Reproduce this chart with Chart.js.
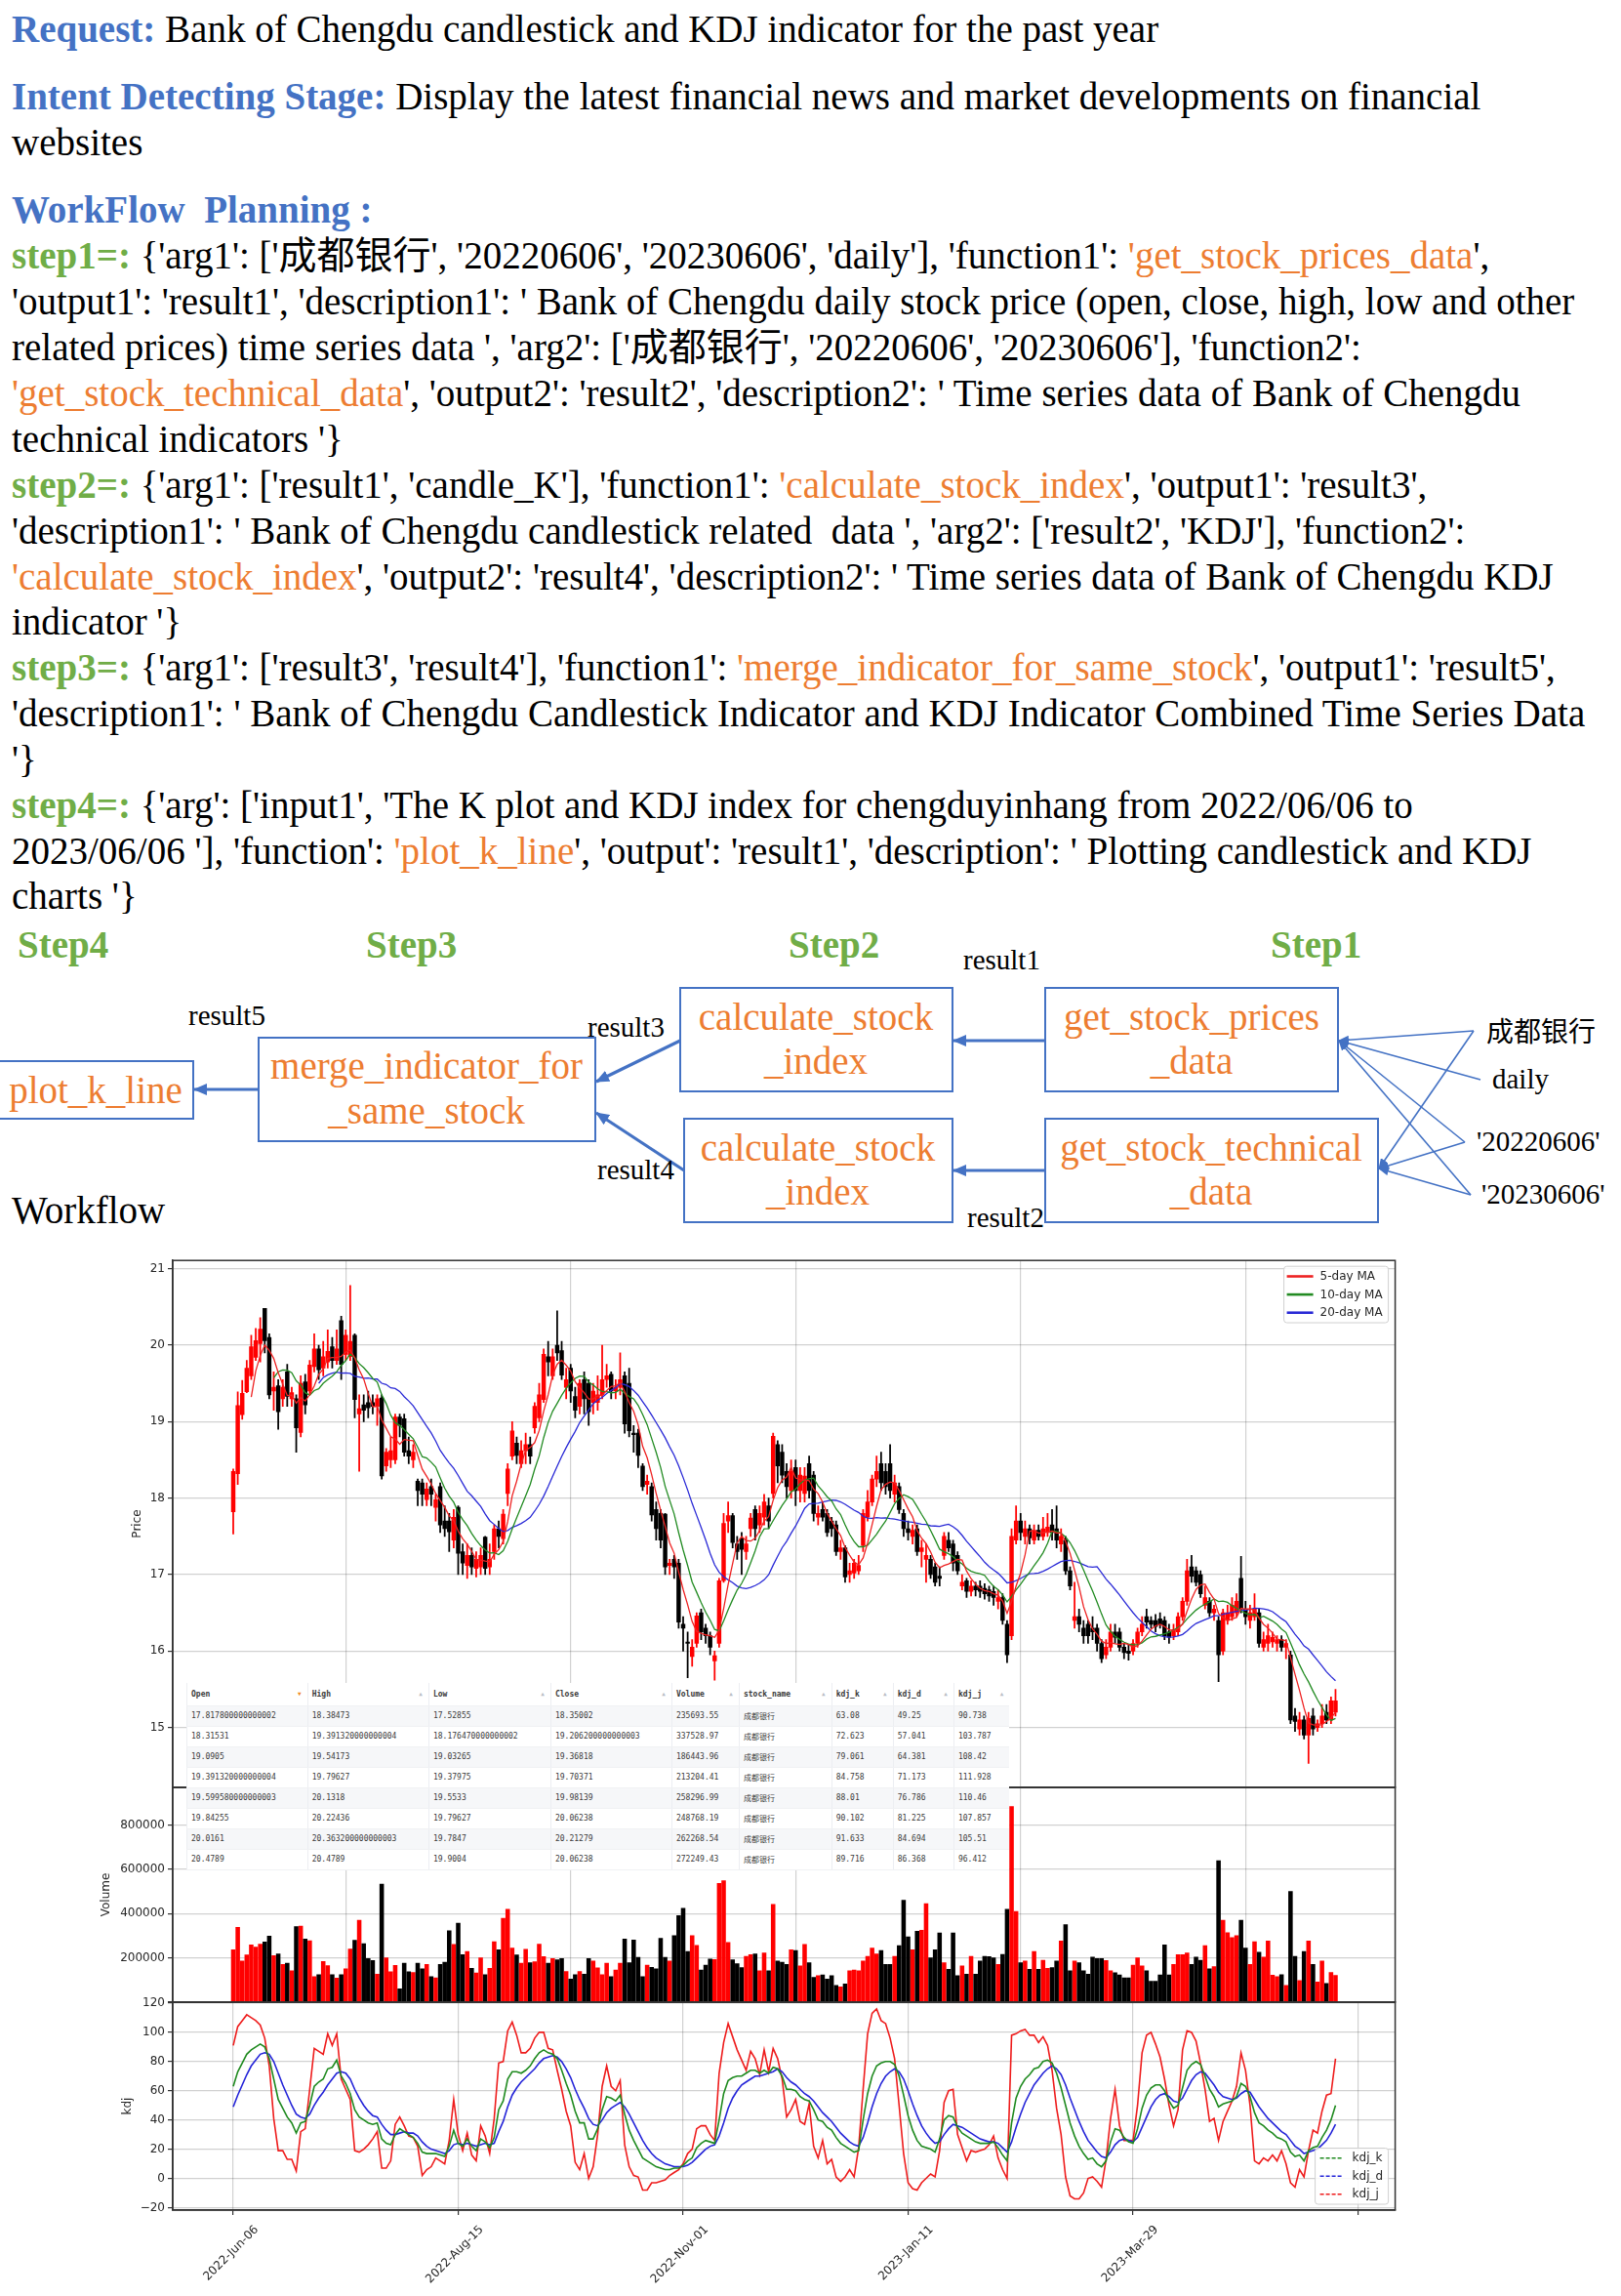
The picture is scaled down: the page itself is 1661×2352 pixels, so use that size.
<!DOCTYPE html>
<html>
<head>
<meta charset="utf-8">
<title>Bank of Chengdu candlestick and KDJ</title>
<script src="https://cdn.jsdelivr.net/npm/chart.js@4.4.1/dist/chart.umd.min.js"></script>
<style>
  html, body { margin: 0; padding: 0; background: #fff; }
  body { position: relative; width: 1661px; height: 2352px; overflow: hidden;
         font-family: "Liberation Serif", "Noto Sans CJK SC", serif; color: #000; }
  .ln { position: absolute; left: 12px; font-size: 39px; line-height: 47px; white-space: nowrap; }
  .bl { color: #4472C4; font-weight: bold; }
  .gr { color: #70AD47; font-weight: bold; }
  .or { color: #ED7D31; }
  canvas { position: absolute; left: 60px; }
  #flow { position: absolute; left: 0; top: 0; }
  #tbl { position: absolute; left: 191px; top: 1724px; width: 843px; border-collapse: collapse;
         table-layout: fixed; background: #fff; font-family: "DejaVu Sans Mono", monospace;
         font-size: 8px; color: #3a3a3a; z-index: 5; }
  #tbl th, #tbl td { box-sizing: border-box; padding: 0 4px; text-align: left; white-space: nowrap; overflow: hidden;
         border-left: 1px solid #eceef2; border-bottom: 1px solid #f0f1f4; }
  #tbl th { height: 23px; font-weight: bold; background: #fff; }
  #tbl td { height: 21px; }
  #tbl tbody tr:nth-child(odd) td { background: #f6f7f9; }
  #tbl .ar { float: right; font-size: 6px; color: #b9bdc5; margin-right: 2px; }
  #tbl .ar.on { color: #f08a24; }
  #tbl .cj { font-family: "Noto Sans CJK SC", sans-serif; }
</style>
</head>
<body>

<div class="ln" style="top:6px"><span class="bl">Request:</span> Bank of Chengdu candlestick and KDJ indicator for the past year</div>
<div class="ln" style="top:75px"><span class="bl">Intent Detecting Stage:</span> Display the latest financial news and market developments on financial</div>
<div class="ln" style="top:122px">websites</div>
<div class="ln" style="top:191px"><span class="bl">WorkFlow&nbsp; Planning :</span></div>
<div class="ln" style="top:238px"><span class="gr">step1=:</span> {'arg1': ['成都银行', '20220606', '20230606', 'daily'], 'function1': <span class="or">'get_stock_prices_data</span>',</div>
<div class="ln" style="top:285px">'output1': 'result1', 'description1': ' Bank of Chengdu daily stock price (open, close, high, low and other</div>
<div class="ln" style="top:332px">related prices) time series data ', 'arg2': ['成都银行', '20220606', '20230606'], 'function2':</div>
<div class="ln" style="top:379px"><span class="or">'get_stock_technical_data</span>', 'output2': 'result2', 'description2': ' Time series data of Bank of Chengdu</div>
<div class="ln" style="top:426px">technical indicators '}</div>
<div class="ln" style="top:473px"><span class="gr">step2=:</span> {'arg1': ['result1', 'candle_K'], 'function1': <span class="or">'calculate_stock_index</span>', 'output1': 'result3',</div>
<div class="ln" style="top:520px">'description1': ' Bank of Chengdu candlestick related&nbsp; data ', 'arg2': ['result2', 'KDJ'], 'function2':</div>
<div class="ln" style="top:567px"><span class="or">'calculate_stock_index</span>', 'output2': 'result4', 'description2': ' Time series data of Bank of Chengdu KDJ</div>
<div class="ln" style="top:613px">indicator '}</div>
<div class="ln" style="top:660px"><span class="gr">step3=:</span> {'arg1': ['result3', 'result4'], 'function1': <span class="or">'merge_indicator_for_same_stock</span>', 'output1': 'result5',</div>
<div class="ln" style="top:707px">'description1': ' Bank of Chengdu Candlestick Indicator and KDJ Indicator Combined Time Series Data</div>
<div class="ln" style="top:754px">'}</div>
<div class="ln" style="top:801px"><span class="gr">step4=:</span> {'arg': ['input1', 'The K plot and KDJ index for chengduyinhang from 2022/06/06 to</div>
<div class="ln" style="top:848px">2023/06/06 '], 'function': <span class="or">'plot_k_line</span>', 'output': 'result1', 'description': ' Plotting candlestick and KDJ</div>
<div class="ln" style="top:894px">charts '}</div>

<svg id="flow" width="1661" height="1290" font-family="Liberation Serif, Noto Sans CJK SC, serif">
  <defs>
    <marker id="big" markerUnits="userSpaceOnUse" markerWidth="14" markerHeight="12" refX="13" refY="6" orient="auto">
      <path d="M0,0 L14,6 L0,12 z" fill="#4472C4"/>
    </marker>
    <marker id="small" markerUnits="userSpaceOnUse" markerWidth="11" markerHeight="9" refX="10" refY="4.5" orient="auto">
      <path d="M0,0 L11,4.5 L0,9 z" fill="#4472C4"/>
    </marker>
  </defs>
  <g font-weight="bold" fill="#70AD47" font-size="39">
    <text x="18" y="981">Step4</text>
    <text x="375" y="981">Step3</text>
    <text x="808" y="981">Step2</text>
    <text x="1302" y="981">Step1</text>
  </g>
  <g fill="none" stroke="#4472C4" stroke-width="2">
    <rect x="-2" y="1087" width="200" height="59"/>
    <rect x="265" y="1063" width="345" height="106"/>
    <rect x="697" y="1012" width="279" height="106"/>
    <rect x="701" y="1146" width="275" height="106"/>
    <rect x="1071" y="1012" width="300" height="106"/>
    <rect x="1071" y="1146" width="341" height="106"/>
  </g>
  <g fill="#ED7D31" font-size="39" text-anchor="middle">
    <text x="98" y="1130">plot_k_line</text>
    <text x="437" y="1105">merge_indicator_for</text>
    <text x="437" y="1151">_same_stock</text>
    <text x="836" y="1055">calculate_stock</text>
    <text x="836" y="1100">_index</text>
    <text x="838" y="1189">calculate_stock</text>
    <text x="838" y="1234">_index</text>
    <text x="1221" y="1055">get_stock_prices</text>
    <text x="1221" y="1100">_data</text>
    <text x="1241" y="1189">get_stock_technical</text>
    <text x="1241" y="1234">_data</text>
  </g>
  <g stroke="#4472C4" stroke-width="3.2" marker-end="url(#big)">
    <line x1="1071" y1="1066" x2="977" y2="1066"/>
    <line x1="1071" y1="1199" x2="977" y2="1199"/>
    <line x1="697" y1="1066" x2="611" y2="1108"/>
    <line x1="701" y1="1199" x2="611" y2="1140"/>
    <line x1="265" y1="1116" x2="199" y2="1116"/>
  </g>
  <g stroke="#4472C4" stroke-width="1.6" marker-end="url(#small)">
    <line x1="1510" y1="1056" x2="1372" y2="1066"/>
    <line x1="1517" y1="1106" x2="1372" y2="1066"/>
    <line x1="1501" y1="1170" x2="1372" y2="1066"/>
    <line x1="1507" y1="1224" x2="1372" y2="1066"/>
    <line x1="1510" y1="1056" x2="1413" y2="1197"/>
    <line x1="1501" y1="1170" x2="1413" y2="1197"/>
    <line x1="1507" y1="1224" x2="1413" y2="1197"/>
  </g>
  <g fill="#000" font-size="29">
    <text x="987" y="993">result1</text>
    <text x="193" y="1050">result5</text>
    <text x="602" y="1062">result3</text>
    <text x="612" y="1208">result4</text>
    <text x="991" y="1257">result2</text>
    <text x="1523" y="1067" font-family="Noto Sans CJK SC, sans-serif" font-size="28">成都银行</text>
    <text x="1529" y="1115">daily</text>
    <text x="1513" y="1179">'20220606'</text>
    <text x="1518" y="1233">'20230606'</text>
  </g>
  <text x="12" y="1253" font-size="39" fill="#000">Workflow</text>
</svg>

<canvas id="priceChart" width="1400" height="560" style="top:1281px"></canvas>
<canvas id="volumeChart" width="1400" height="240" style="top:1821px"></canvas>
<canvas id="kdjChart" width="1400" height="311" style="top:2041px"></canvas>

<table id="tbl"><thead><tr id="tblHead"></tr></thead><tbody id="tblBody"></tbody></table>

<script>
// ---- price data (index 0 = 2022-06-06) ----
const opens = [
  17.82, 18.32, 19.09, 19.39, 19.60, 19.84, 20.02, 20.48, 20.10, 19.40,
  19.47, 19.30, 19.65, 19.30, 19.30, 18.86, 19.52, 19.40, 19.72, 19.95,
  19.70, 19.78, 19.98, 19.80, 20.32, 19.88, 19.85, 20.13, 19.10, 19.22,
  19.25, 19.25, 19.20, 19.31, 18.42, 18.50, 18.50, 19.06, 19.04, 18.62,
  18.50, 18.22, 18.20, 17.98, 18.15, 17.88, 18.15, 17.70, 17.70, 17.45,
  17.88, 17.30, 17.12, 17.25, 17.08, 17.10, 17.49, 17.10, 17.30, 17.60,
  17.47, 18.06, 18.55, 18.72, 18.45, 18.62, 18.70, 18.92, 19.05, 19.29,
  19.85, 19.60, 20.00, 19.93, 19.45, 19.70, 19.33, 19.20, 19.55, 19.50,
  19.25, 19.25, 19.35, 19.55, 19.62, 19.40, 19.45, 19.60, 19.50, 18.85,
  18.85, 18.42, 18.18, 18.15, 17.85, 17.80, 17.79, 17.12, 17.20, 17.15,
  16.35, 16.12, 15.93, 16.10, 16.50, 16.30, 16.20, 15.87, 16.10, 16.92,
  17.70, 17.77, 17.40, 17.47, 17.30, 17.60, 17.85, 17.65, 17.75, 17.90,
  18.06, 18.70, 18.60, 18.35, 18.10, 18.40, 18.10, 18.06, 18.45, 18.30,
  17.75, 17.85, 17.80, 17.70, 17.65, 17.30, 17.35, 17.00, 17.02, 17.05,
  17.38, 17.75, 17.95, 18.25, 18.45, 18.35, 18.45, 18.05, 18.15, 17.80,
  17.60, 17.50, 17.60, 17.30, 17.20, 17.20, 17.10, 16.98, 17.25, 17.45,
  17.40, 17.25, 16.85, 16.92, 16.78, 16.85, 16.85, 16.82, 16.80, 16.78,
  16.65, 16.70, 16.35, 16.20, 17.45, 17.70, 17.50, 17.60, 17.45, 17.58,
  17.50, 17.55, 17.65, 17.60, 17.40, 17.45, 17.05, 16.40, 16.45, 16.30,
  16.35, 16.30, 16.30, 16.10, 15.95, 16.05, 16.25, 16.25, 16.05, 16.00,
  16.00, 16.10, 16.25, 16.45, 16.40, 16.40, 16.42, 16.40, 16.25, 16.20,
  16.25, 16.45, 16.65, 17.10, 17.05, 17.00, 16.60, 16.65, 16.50, 16.40,
  16.00, 16.40, 16.45, 16.50, 16.95, 16.55, 16.40, 16.45, 16.50, 16.05,
  16.10, 16.12, 16.10, 16.15, 16.05, 15.95, 15.15, 14.98, 15.10, 14.90,
  15.15, 15.00, 15.05, 15.20, 15.10, 15.20
];
const highs = [
  18.38, 19.39, 19.54, 19.80, 20.13, 20.22, 20.36, 20.48, 20.15, 19.65,
  19.55, 19.55, 19.75, 19.45, 19.35, 19.60, 19.62, 19.80, 20.15, 20.00,
  20.05, 20.20, 20.10, 20.20, 20.38, 20.20, 20.78, 20.15, 19.35, 19.35,
  19.40, 19.35, 19.35, 19.35, 18.65, 18.80, 19.10, 19.10, 19.10, 18.80,
  18.70, 18.25, 18.25, 18.20, 18.25, 18.05, 18.20, 17.90, 17.80, 17.85,
  17.90, 17.40, 17.40, 17.35, 17.30, 17.35, 17.50, 17.40, 17.65, 17.70,
  17.85, 18.45, 19.00, 18.80, 18.75, 18.85, 18.80, 19.25, 19.50, 19.95,
  20.05, 19.95, 20.45, 20.05, 19.70, 19.75, 19.45, 19.55, 19.65, 19.55,
  19.50, 19.60, 20.00, 19.75, 19.65, 19.55, 19.90, 19.65, 19.70, 18.95,
  18.90, 18.45, 18.30, 18.20, 17.95, 17.85, 17.80, 17.20, 17.25, 17.20,
  16.45, 16.25, 16.15, 16.50, 16.55, 16.35, 16.25, 16.00, 16.95, 17.80,
  17.95, 17.80, 17.50, 17.55, 17.50, 17.80, 17.90, 17.90, 18.05, 18.00,
  18.85, 18.75, 18.70, 18.45, 18.50, 18.50, 18.40, 18.40, 18.55, 18.35,
  17.90, 17.95, 17.85, 17.75, 17.70, 17.45, 17.38, 17.15, 17.20, 17.25,
  17.85, 18.10, 18.30, 18.55, 18.60, 18.45, 18.70, 18.30, 18.20, 17.85,
  17.70, 17.65, 17.65, 17.45, 17.40, 17.25, 17.15, 17.10, 17.55, 17.55,
  17.45, 17.30, 17.00, 16.95, 16.92, 16.90, 16.92, 16.88, 16.85, 16.85,
  16.80, 16.75, 16.40, 17.60, 17.90, 17.80, 17.70, 17.65, 17.65, 17.65,
  17.75, 17.80, 17.85, 17.90, 17.60, 17.50, 17.10, 16.90, 16.55, 16.40,
  16.40, 16.45, 16.35, 16.15, 16.15, 16.35, 16.35, 16.30, 16.10, 16.08,
  16.15, 16.30, 16.45, 16.55, 16.45, 16.48, 16.50, 16.45, 16.35, 16.35,
  16.50, 16.70, 17.20, 17.25, 17.10, 17.05, 16.85, 16.70, 16.60, 16.45,
  16.55, 16.60, 16.70, 16.75, 17.24, 16.65, 16.60, 16.75, 16.55, 16.25,
  16.35, 16.25, 16.20, 16.20, 16.15, 16.00, 15.25, 15.20, 15.15, 15.20,
  15.25, 15.10, 15.30, 15.30, 15.40, 15.50
];
const lows = [
  17.53, 18.18, 19.03, 19.38, 19.55, 19.80, 19.78, 19.90, 19.30, 19.15,
  18.90, 19.20, 19.20, 19.20, 18.60, 18.80, 19.10, 19.35, 19.65, 19.55,
  19.60, 19.70, 19.70, 19.75, 19.55, 19.80, 19.80, 19.05, 18.35, 19.00,
  19.05, 19.10, 18.95, 18.25, 18.35, 18.40, 18.45, 18.80, 18.55, 18.45,
  18.40, 17.90, 17.90, 17.90, 17.90, 17.70, 17.55, 17.50, 17.30, 17.35,
  17.00, 17.00, 16.95, 17.00, 16.97, 17.00, 17.00, 17.00, 17.20, 17.35,
  17.40, 17.90, 18.50, 18.45, 18.40, 18.45, 18.45, 18.85, 19.00, 19.25,
  19.60, 19.55, 19.80, 19.55, 19.30, 19.25, 19.05, 19.10, 19.10, 18.95,
  19.10, 19.15, 19.30, 19.45, 19.30, 19.30, 19.35, 18.85, 18.80, 18.60,
  18.40, 18.10, 18.05, 17.70, 17.45, 17.35, 17.00, 17.00, 16.95, 16.30,
  16.00, 15.65, 15.80, 16.05, 16.15, 16.10, 15.95, 15.62, 16.05, 16.90,
  17.55, 17.35, 17.20, 17.00, 17.20, 17.50, 17.45, 17.55, 17.65, 17.60,
  18.00, 18.20, 18.20, 18.00, 18.00, 17.90, 17.95, 17.95, 18.00, 17.70,
  17.65, 17.70, 17.50, 17.50, 17.25, 17.20, 16.90, 16.90, 16.95, 17.00,
  17.30, 17.70, 17.90, 18.15, 18.10, 18.05, 18.00, 17.95, 17.80, 17.50,
  17.45, 17.40, 17.25, 17.10, 16.90, 16.95, 16.85, 16.85, 17.20, 17.30,
  17.05, 17.00, 16.80, 16.70, 16.72, 16.72, 16.70, 16.68, 16.65, 16.60,
  16.55, 16.35, 15.85, 16.15, 17.40, 17.45, 17.40, 17.40, 17.40, 17.45,
  17.45, 17.50, 17.45, 17.35, 17.30, 17.00, 16.80, 16.30, 16.25, 16.10,
  16.10, 16.15, 16.00, 15.85, 15.90, 16.00, 16.10, 16.00, 15.90, 15.88,
  15.95, 16.05, 16.20, 16.30, 16.30, 16.25, 16.30, 16.15, 16.10, 16.15,
  16.20, 16.40, 16.60, 16.90, 16.85, 16.70, 16.55, 16.45, 16.40, 15.60,
  15.95, 16.35, 16.40, 16.45, 16.50, 16.35, 16.30, 16.40, 16.05, 16.00,
  16.00, 16.05, 16.00, 16.00, 15.90, 15.05, 14.95, 14.90, 14.85, 14.53,
  14.90, 14.95, 15.00, 15.05, 15.05, 15.15
];
const closes = [
  18.35, 19.21, 19.37, 19.70, 19.98, 20.06, 20.21, 20.06, 19.35, 19.45,
  19.13, 19.45, 19.33, 19.38, 18.92, 19.50, 19.22, 19.74, 19.95, 19.68,
  19.85, 19.92, 19.80, 19.95, 19.75, 20.13, 20.05, 19.29, 19.17, 19.15,
  19.18, 19.20, 19.30, 18.29, 18.60, 18.62, 19.06, 18.95, 18.60, 18.55,
  18.60, 18.10, 18.05, 18.12, 18.05, 17.98, 17.65, 17.60, 17.56, 17.75,
  17.28, 17.15, 17.25, 17.10, 17.20, 17.25, 17.08, 17.20, 17.60, 17.50,
  17.79, 18.38, 18.88, 18.56, 18.62, 18.70, 18.55, 19.20, 19.35, 19.88,
  19.78, 19.85, 19.90, 19.61, 19.55, 19.40, 19.15, 19.50, 19.30, 19.13,
  19.40, 19.35, 19.55, 19.60, 19.40, 19.45, 19.55, 18.97, 18.88, 18.83,
  18.56, 18.15, 18.22, 17.78, 17.60, 17.45, 17.10, 17.15, 17.10, 16.38,
  16.30, 16.10, 16.05, 16.46, 16.25, 16.20, 16.05, 15.94, 16.92, 17.67,
  17.77, 17.42, 17.30, 17.33, 17.40, 17.74, 17.60, 17.80, 17.95, 17.70,
  18.81, 18.42, 18.30, 18.15, 18.35, 18.10, 18.30, 18.29, 18.10, 17.80,
  17.80, 17.75, 17.55, 17.60, 17.30, 17.35, 16.97, 17.05, 17.15, 17.12,
  17.80, 17.95, 18.25, 18.35, 18.20, 18.15, 18.10, 18.20, 17.85, 17.60,
  17.55, 17.58, 17.30, 17.35, 17.25, 17.00, 16.90, 16.95, 17.50, 17.35,
  17.15, 17.05, 16.90, 16.78, 16.85, 16.80, 16.78, 16.75, 16.72, 16.70,
  16.70, 16.40, 15.95, 17.50, 17.70, 17.55, 17.60, 17.48, 17.58, 17.50,
  17.60, 17.62, 17.55, 17.45, 17.50, 17.05, 16.85, 16.45, 16.35, 16.20,
  16.20, 16.25, 16.10, 15.90, 16.05, 16.25, 16.18, 16.05, 15.98, 15.97,
  16.10, 16.25, 16.35, 16.38, 16.35, 16.32, 16.35, 16.20, 16.18, 16.28,
  16.45, 16.65, 17.05, 16.98, 16.90, 16.75, 16.70, 16.50, 16.55, 15.95,
  16.50, 16.50, 16.60, 16.65, 16.55, 16.45, 16.50, 16.55, 16.10, 16.15,
  16.20, 16.18, 16.15, 16.05, 16.10, 15.10, 15.08, 15.10, 14.90, 15.12,
  14.98, 15.05, 15.15, 15.10, 15.35, 15.35
];
// volume in thousands of shares
const volumeThousands = [
  236, 338, 186, 213, 258, 249, 262, 272, 298, 210,
  217, 170, 176, 141, 341, 344, 285, 277, 115, 124,
  183, 164, 124, 108, 124, 150, 240, 279, 370, 264,
  197, 188, 126, 534, 200, 137, 166, 60, 176, 137,
  134, 175, 150, 170, 115, 109, 170, 180, 323, 261,
  357, 214, 229, 152, 131, 200, 124, 152, 273, 236,
  379, 420, 244, 213, 176, 239, 178, 182, 262, 205,
  176, 197, 191, 197, 138, 104, 124, 138, 126, 197,
  185, 154, 124, 175, 115, 145, 175, 285, 178, 280,
  202, 115, 167, 157, 150, 288, 202, 185, 300, 391,
  424, 229, 300, 256, 145, 167, 194, 192, 537, 549,
  270, 191, 173, 156, 207, 214, 217, 141, 222, 141,
  442, 185, 180, 170, 236, 233, 163, 261, 178, 112,
  119, 122, 104, 119, 75, 68, 82, 141, 145, 141,
  185, 207, 244, 218, 233, 170, 170, 207, 255, 461,
  295, 236, 320, 325, 445, 200, 236, 312, 178, 148,
  312, 119, 163, 126, 207, 126, 185, 207, 205, 200,
  170, 215, 420, 885, 410, 178, 185, 148, 229, 148,
  189, 152, 156, 185, 276, 350, 141, 185, 178, 141,
  126, 203, 197, 197, 188, 141, 133, 122, 109, 109,
  167, 200, 163, 141, 94, 94, 123, 258, 123, 170,
  214, 214, 222, 170, 203, 189, 255, 150, 160, 640,
  370, 314, 292, 300, 370, 244, 170, 273, 225, 203,
  276, 121, 115, 124, 75, 500, 206, 97, 229, 276,
  170, 90, 185, 84, 134, 120
];
const kdjK = [
  63, 73, 79, 85, 88, 90, 92, 90, 82, 68,
  54, 48, 42, 38, 31, 38, 39, 50, 63, 66,
  68, 75, 76, 81, 70, 65, 58, 47, 42, 40,
  38, 37, 38, 27, 24, 23, 30, 34, 32, 30,
  28, 24, 18, 17, 17, 17, 16, 15, 22, 33,
  24, 22, 27, 22, 19, 27, 25, 21, 28, 47,
  53, 68, 73, 73, 72, 74, 77, 82, 86, 88,
  86, 85, 82, 74, 65, 57, 46, 38, 38, 27,
  27, 34, 47, 56, 55, 53, 57, 44, 33, 26,
  20, 14, 12, 10, 8, 7, 6, 6, 7, 7,
  9, 12, 14, 21, 24, 26, 25, 24, 40, 58,
  67, 69, 70, 70, 72, 74, 74, 72, 74, 72,
  76, 75, 70, 61, 61, 60, 56, 54, 53, 47,
  40, 39, 35, 33, 28, 24, 22, 20, 18, 19,
  40, 58, 70, 77, 79, 80, 80, 78, 70, 57,
  43, 33, 26, 22, 21, 20, 18, 27, 40, 43,
  42, 35, 31, 29, 27, 25, 24, 24, 24, 25,
  21, 16, 12, 38, 55, 63, 68, 71, 75, 76,
  80, 81, 79, 72, 62, 50, 38, 29, 22, 17,
  13, 14, 10, 8, 12, 25, 34, 33, 28, 25,
  24, 34, 48, 57, 62, 64, 64, 60, 53, 48,
  50, 62, 74, 78, 80, 78, 70, 61, 56, 49,
  51, 52, 53, 56, 65, 63, 56, 45, 38, 36,
  33, 31, 28, 27, 25, 18, 15, 16, 12, 19,
  21, 22, 28, 33, 40, 50
];
const kdjD = [
  49, 57, 64, 71, 77, 81, 85, 86, 85, 80,
  72, 64, 57, 50, 44, 42, 41, 44, 50, 55,
  59, 64, 68, 72, 73, 72, 68, 61, 55, 50,
  46, 43, 42, 37, 33, 30, 30, 31, 32, 31,
  31, 29, 25, 22, 20, 19, 18, 17, 19, 23,
  24, 23, 24, 23, 22, 23, 24, 23, 24, 32,
  39, 49, 57, 62, 66, 69, 72, 75, 79, 82,
  83, 84, 83, 80, 75, 69, 61, 54, 48, 41,
  37, 36, 40, 45, 48, 50, 52, 49, 44, 38,
  32, 26, 21, 17, 14, 12, 10, 9, 8, 8,
  8, 9, 11, 14, 17, 20, 22, 23, 29, 38,
  48, 55, 60, 64, 66, 68, 70, 70, 71, 72,
  73, 75, 73, 69, 66, 64, 61, 58, 56, 53,
  49, 45, 42, 39, 35, 31, 28, 25, 23, 22,
  28, 38, 49, 58, 65, 70, 73, 75, 73, 68,
  60, 51, 43, 36, 31, 27, 24, 25, 30, 34,
  37, 36, 35, 33, 31, 29, 27, 26, 25, 25,
  24, 21, 18, 25, 35, 44, 52, 58, 64, 68,
  72, 75, 77, 75, 71, 64, 55, 47, 39, 32,
  26, 22, 18, 15, 14, 18, 23, 26, 27, 26,
  25, 28, 35, 42, 49, 54, 57, 58, 56, 53,
  52, 55, 61, 67, 71, 73, 72, 68, 64, 59,
  56, 55, 54, 55, 58, 60, 59, 54, 49, 45,
  41, 38, 35, 32, 30, 26, 22, 20, 17, 18,
  19, 20, 23, 26, 31, 37
];
const kdjJ = [
  91, 104, 108, 112, 110, 108, 105, 96, 77, 41,
  19, 19, 13, 13, 5, 32, 34, 61, 89, 87,
  85, 99, 91, 99, 68, 61, 54, 19, 18, 20,
  23, 27, 32, 7, 7, 12, 37, 42, 36, 29,
  28, 22, 2, 6, 8, 14, 12, 10, 26, 54,
  30, 19, 31, 16, 12, 36, 29, 17, 41, 79,
  80, 101, 107, 98, 86, 86, 89, 96, 100, 100,
  89, 88, 74, 61, 46, 36, 11, 6, 17, 0,
  8, 30, 63, 77, 63, 60, 67, 23, 8, 2,
  1, -8, -8, -3, -3, -2, -1, 2, 4, 6,
  10, 17, 20, 34, 36, 36, 30, 26, 72, 93,
  106, 97, 88, 81, 74, 87, 82, 71, 88, 73,
  89, 82, 68, 42, 47, 54, 39, 37, 51, 22,
  14, 26, 10, 13, 1, -2, 1, 6, 1, 21,
  61, 99, 113, 116, 108, 106, 96, 82, 50, 17,
  -3, -7, -8, -3, 0, 3, 1, 19, 52, 60,
  61, 30, 21, 12, 19, 18, 19, 20, 23, 29,
  14, 6, 0, 98, 99, 101, 102, 98, 98, 93,
  97, 91, 74, 48, 30, 1, -12, -14, -14, -10,
  0, 1, -2, -6, 13, 41, 61, 36, 26, 26,
  26, 50, 86, 98, 100, 92, 83, 68, 50, 36,
  47, 88, 101, 100, 94, 79, 61, 39, 41, 26,
  39, 46, 53, 63, 86, 74, 50, 12, 10, 14,
  12, 16, 12, 19, 10, -3, -6, 6, 1, 19,
  33, 31, 46, 57, 58, 82
];
// x tick labels every 50 trading days
const tickLabels = ['2022-Jun-06', '2022-Aug-15', '2022-Nov-01', '2023-Jan-11', '2023-Mar-29', ''];
const volumeTicks = [0, 200000, 400000, 600000, 800000];

// overlaid data table (first rows of the merged result)
const tableHeaders = ['Open', 'High', 'Low', 'Close', 'Volume', 'stock_name', 'kdj_k', 'kdj_d', 'kdj_j'];
const tableRows = [
  ['17.817800000000002', '18.38473', '17.52855', '18.35002', '235693.55', '成都银行', '63.08', '49.25', '90.738'],
  ['18.31531', '19.391320000000004', '18.176470000000002', '19.206200000000003', '337528.97', '成都银行', '72.623', '57.041', '103.787'],
  ['19.0905', '19.54173', '19.03265', '19.36818', '186443.96', '成都银行', '79.061', '64.381', '108.42'],
  ['19.391320000000004', '19.79627', '19.37975', '19.70371', '213204.41', '成都银行', '84.758', '71.173', '111.928'],
  ['19.599580000000003', '20.1318', '19.5533', '19.98139', '258296.99', '成都银行', '88.01', '76.786', '110.46'],
  ['19.84255', '20.22436', '19.79627', '20.06238', '248768.19', '成都银行', '90.102', '81.225', '107.857'],
  ['20.0161', '20.363200000000003', '19.7847', '20.21279', '262268.54', '成都银行', '91.633', '84.694', '105.51'],
  ['20.4789', '20.4789', '19.9004', '20.06238', '272249.43', '成都银行', '89.716', '86.368', '96.412']
];
const colWidths = [123.7, 124.3, 125, 124, 69, 94.7, 63, 62.3, 57];

// ---- table ----
const head = document.getElementById('tblHead');
tableHeaders.forEach((h, c) => {
  const th = document.createElement('th');
  th.style.width = colWidths[c] + 'px';
  th.innerHTML = h + (c === 0 ? '<span class="ar on">▼</span>' : '<span class="ar">▲</span>');
  head.appendChild(th);
});
const body = document.getElementById('tblBody');
tableRows.forEach(r => {
  const tr = document.createElement('tr');
  r.forEach((v, c) => {
    const td = document.createElement('td');
    td.textContent = v;
    if (c === 5) td.className = 'cj';
    tr.appendChild(td);
  });
  body.appendChild(tr);
});

// ---- chart helpers ----
Chart.defaults.font.family = '"DejaVu Sans", sans-serif';
Chart.defaults.font.size = 12;
Chart.defaults.color = '#262626';

const gridColor = 'rgba(0,0,0,0.18)';
const spine = '#333333';
const upColor = '#ff0000';
const downColor = '#000000';
const X_MIN = -13.45, X_MAX = 258.26;

const idx = closes.map((_, i) => i);
const candleColors = idx.map(i => closes[i] >= opens[i] ? upColor : downColor);

function movingAvg(n) {
  return idx.map(i => {
    if (i < n - 1) return {x: i, y: null};
    let s = 0;
    for (let k = i - n + 1; k <= i; k++) s += closes[k];
    return {x: i, y: s / n};
  });
}

function xAxis(showLabels) {
  return {
    type: 'linear', min: X_MIN, max: X_MAX, offset: false,
    afterFit: s => { s.height = showLabels ? 88 : 0; },
    grid: { color: gridColor, lineWidth: 1.2, drawTicks: showLabels, tickLength: 5, tickColor: spine },
    border: { display: true, color: spine, width: 1.5 },
    ticks: {
      display: showLabels, stepSize: 50, includeBounds: false, autoSkip: false,
      minRotation: 45, maxRotation: 45, padding: 8, labelOffset: 24,
      callback: v => tickLabels[Math.round(v / 50)] ?? ''
    }
  };
}

function yAxis(title, titlePad, extra) {
  return Object.assign({
    type: 'linear',
    afterFit: s => { s.width = 117; },
    grid: { color: gridColor, lineWidth: 1.2, tickLength: 5, tickColor: spine },
    border: { display: true, color: spine, width: 1.5 },
    title: { display: true, text: title, padding: { top: titlePad, bottom: 0 }, font: { size: 12 } }
  }, extra);
}

// frame around each panel (top and right spines)
const framePlugin = {
  id: 'frame',
  afterDraw(chart) {
    const {ctx, chartArea: a} = chart;
    ctx.save();
    ctx.strokeStyle = spine;
    ctx.lineWidth = 1.5;
    ctx.strokeRect(a.left, a.top, a.right - a.left, a.bottom - a.top);
    ctx.restore();
  }
};

// legend in a rounded box inside the plot area
function boxLegend(cfg) {
  return {
    id: 'boxLegend',
    afterDraw(chart) {
      const {ctx, chartArea: a} = chart;
      const h = cfg.items.length * cfg.rowH + cfg.padY * 2;
      const x = a.right - cfg.right - cfg.width;
      const y = cfg.fromBottom ? a.bottom - cfg.bottom - h : a.top + cfg.top;
      ctx.save();
      ctx.beginPath();
      const r = 3, w = cfg.width;
      ctx.moveTo(x + r, y);
      ctx.lineTo(x + w - r, y); ctx.quadraticCurveTo(x + w, y, x + w, y + r);
      ctx.lineTo(x + w, y + h - r); ctx.quadraticCurveTo(x + w, y + h, x + w - r, y + h);
      ctx.lineTo(x + r, y + h); ctx.quadraticCurveTo(x, y + h, x, y + h - r);
      ctx.lineTo(x, y + r); ctx.quadraticCurveTo(x, y, x + r, y);
      ctx.closePath();
      ctx.fillStyle = 'rgba(255,255,255,0.85)';
      ctx.fill();
      ctx.strokeStyle = '#d0d0d0';
      ctx.lineWidth = 1;
      ctx.stroke();
      ctx.font = '12px "DejaVu Sans"';
      ctx.textBaseline = 'middle';
      cfg.items.forEach((di, k) => {
        const ds = chart.data.datasets[di];
        const cy = y + cfg.padY + cfg.rowH * (k + 0.5);
        ctx.strokeStyle = ds.borderColor;
        ctx.lineWidth = cfg.lineWidth;
        ctx.setLineDash(cfg.dash);
        ctx.beginPath();
        ctx.moveTo(x + cfg.lineX0, cy);
        ctx.lineTo(x + cfg.lineX1, cy);
        ctx.stroke();
        ctx.setLineDash([]);
        ctx.fillStyle = '#262626';
        ctx.fillText(ds.label, x + cfg.textX, cy + 0.5);
      });
      ctx.restore();
    }
  };
}

const basePlugins = { legend: { display: false }, tooltip: { enabled: false } };
const basePadding = { top: 10, bottom: 10, left: 0, right: 30.4 };

// ---- price panel ----
new Chart(document.getElementById('priceChart'), {
  type: 'bar',
  data: {
    datasets: [
      { type: 'bar', label: 'wick', data: idx.map(i => ({x: i, y: [lows[i], highs[i]]})),
        backgroundColor: candleColors, barThickness: 1.1, grouped: false, order: 3 },
      { type: 'bar', label: 'body', data: idx.map(i => ({x: i, y: [Math.min(opens[i], closes[i]), Math.max(opens[i], closes[i])]})),
        backgroundColor: candleColors, barThickness: 3.8, minBarLength: 1, grouped: false, order: 2 },
      { type: 'line', label: '5-day MA', data: movingAvg(5), borderColor: '#ee2222', borderWidth: 1.3, pointRadius: 0, order: 0 },
      { type: 'line', label: '10-day MA', data: movingAvg(10), borderColor: '#228b22', borderWidth: 1.3, pointRadius: 0, order: 0 },
      { type: 'line', label: '20-day MA', data: movingAvg(20), borderColor: '#2a2ad6', borderWidth: 1.3, pointRadius: 0, order: 0 }
    ]
  },
  options: {
    responsive: false, animation: false,
    layout: { padding: basePadding },
    plugins: basePlugins,
    scales: {
      x: xAxis(false),
      y: yAxis('Price', 74, { min: 14.22, max: 21.108,
        ticks: { stepSize: 1, includeBounds: false, padding: 3 } })
    }
  },
  plugins: [framePlugin, boxLegend({ items: [2, 3, 4], width: 107, rowH: 18.6, padY: 1, top: 6, right: 7,
    lineX0: 3, lineX1: 30, textX: 37, lineWidth: 2.6, dash: [] })]
});

// ---- volume panel ----
new Chart(document.getElementById('volumeChart'), {
  type: 'bar',
  data: {
    datasets: [
      { label: 'Volume', data: idx.map(i => ({x: i, y: volumeThousands[i] * 1000})),
        backgroundColor: candleColors, barThickness: 3.9, grouped: false }
    ]
  },
  options: {
    responsive: false, animation: false,
    layout: { padding: basePadding },
    plugins: basePlugins,
    scales: {
      x: xAxis(false),
      y: yAxis('Volume', 42, { min: 0, max: 970500,
        afterBuildTicks: s => { s.ticks = volumeTicks.map(v => ({value: v})); },
        ticks: { padding: 3, callback: v => v === 0 ? '' : String(v) } })
    }
  },
  plugins: [framePlugin]
});

// ---- KDJ panel ----
new Chart(document.getElementById('kdjChart'), {
  type: 'line',
  data: {
    datasets: [
      { label: 'kdj_k', data: idx.map(i => ({x: i, y: kdjK[i]})), borderColor: '#1f8a1f', borderWidth: 1.6, pointRadius: 0 },
      { label: 'kdj_d', data: idx.map(i => ({x: i, y: kdjD[i]})), borderColor: '#2424d8', borderWidth: 1.6, pointRadius: 0 },
      { label: 'kdj_j', data: idx.map(i => ({x: i, y: kdjJ[i]})), borderColor: '#ee1c1c', borderWidth: 1.6, pointRadius: 0 }
    ]
  },
  options: {
    responsive: false, animation: false,
    layout: { padding: { top: 10, bottom: 0, left: 0, right: 30.4 } },
    plugins: basePlugins,
    scales: {
      x: xAxis(true),
      y: yAxis('kdj', 64, { min: -21.7, max: 120.5,
        ticks: { stepSize: 20, includeBounds: false, padding: 3,
          callback: v => v < 0 ? '\u2212' + Math.abs(v) : String(v) } })
    }
  },
  plugins: [framePlugin, boxLegend({ items: [0, 1, 2], width: 75, rowH: 18.5, padY: 1, bottom: 6, right: 7, fromBottom: true,
    lineX0: 5, lineX1: 29, textX: 38, lineWidth: 1.5, dash: [4, 2] })]
});
</script>
</body>
</html>
